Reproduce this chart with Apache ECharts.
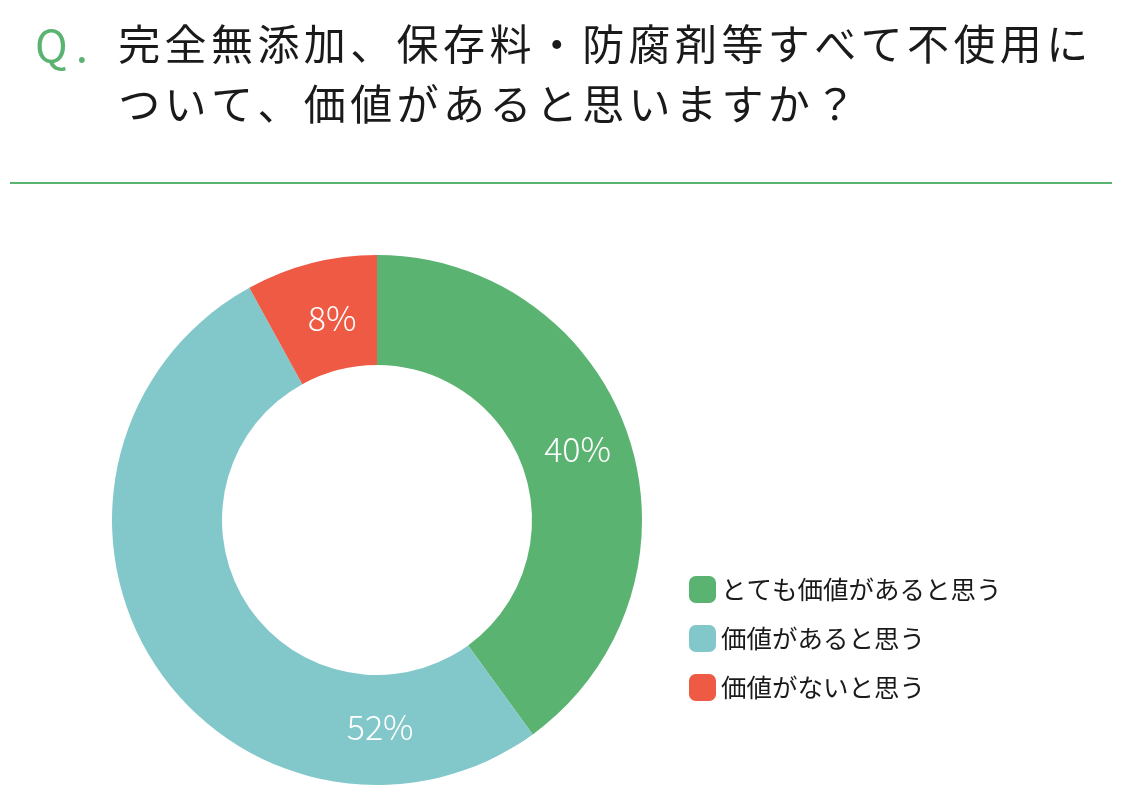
<!DOCTYPE html>
<html><head><meta charset="utf-8">
<script src="https://cdn.jsdelivr.net/npm/echarts@6/dist/echarts.min.js"></script>
<style>html,body{margin:0;padding:0;background:#fff}#c{width:1126px;height:810px}</style>
</head><body><div id="c"></div>
<script>
const titleLine1 = '完全無添加、保存料・防腐剤等すべて不使用に';
const titleLine2 = 'ついて、価値があると思いますか？';
const categories = ['とても価値があると思う', '価値があると思う', '価値がないと思う'];
const values = [40, 52, 8];
const colors = ['#5BB372', '#82C8CA', '#EE5A43'];

const FONT = '"Noto Sans CJK JP", "Noto Sans", sans-serif';
const spaced = s => Array.from(s).map(c => '{a|' + c + '}').join('');
const titleRich = { a: { fontFamily: FONT, fontSize: 42, fontWeight: 'normal', color: '#1a1a1a', padding: [0, 2.2, 0, 2.2] } };
const chart = echarts.init(document.getElementById('c'), null, {renderer: 'canvas'});
chart.setOption({
  backgroundColor: '#fff',
  animation: false,
  title: [
    { left: 30, top: 18, text: '{q|Q}{d|.}', textStyle: { rich: {
      q: { fontFamily: FONT, fontSize: 44, fontWeight: 'normal', color: '#5BB372' },
      d: { fontFamily: FONT, fontSize: 44, fontWeight: 'normal', color: '#5BB372', padding: [0, 0, 0, 8] } } } },
    { left: 111, top: 18, text: spaced(titleLine1), textStyle: { rich: titleRich } },
    { left: 111, top: 78, text: spaced(titleLine2), textStyle: { rich: titleRich } }
  ],
  graphic: [
    { type: 'line', shape: { x1: 10, y1: 183, x2: 1112, y2: 183 }, style: { stroke: '#5BB372', lineWidth: 2 } }
  ],
  legend: {
    orient: 'vertical', left: 684, top: 571,
    itemWidth: 27, itemHeight: 27, itemGap: 22,
    icon: 'roundRect',
    textStyle: { fontFamily: FONT, fontSize: 25.5, color: '#1a1a1a' },
    data: categories
  },
  series: [{
    type: 'pie',
    center: [377, 520],
    radius: [155, 265],
    startAngle: 90,
    clockwise: true,
    color: colors,
    itemStyle: { borderWidth: 0 },
    label: {
      show: true, position: 'inside',
      formatter: '{c}%',
      color: '#fff', fontFamily: FONT, fontSize: 34, fontWeight: 300
    },
    labelLine: { show: false },
    labelLayout: function (p) {
      if (p.dataIndex === 0) return { dx: -2, dy: -5 };
      if (p.dataIndex === 1) return { dx: 183, dy: 93 };
      if (p.dataIndex === 2) return { dx: 8, dy: 4 };
      return {};
    },
    emphasis: { disabled: true },
    data: categories.map((n, i) => ({ name: n, value: values[i] }))
  }]
});
</script></body></html>
